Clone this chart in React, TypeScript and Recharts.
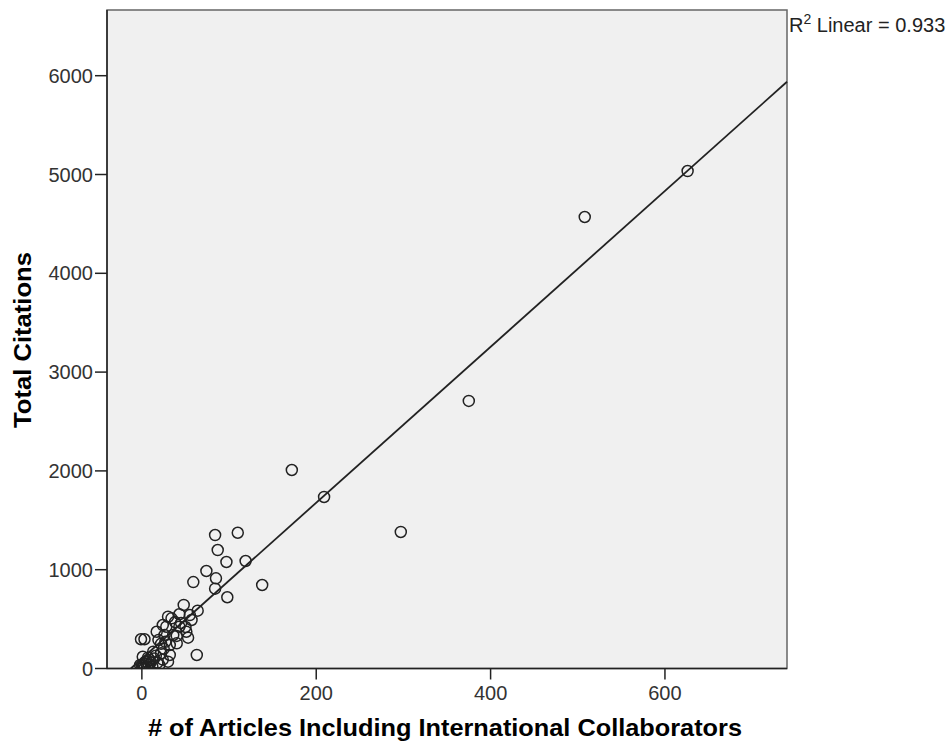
import React from 'react';
import { ScatterChart, Scatter, XAxis, YAxis, CartesianGrid, ReferenceLine, ReferenceArea } from 'recharts';

const articles = [626, 508, 375, 297, 209, 172, 138, 119, 110, 84, 87, 97, 74, 85, 59, 84, 98, 48, 64, 63,
  30, 43, 55, 57, 24, 43, 51, 53, 36, 26, 19, 32, -1, 3, 40, 13, 22, 32, 9, 1,
  -2, 20, 30, 28, 17, 34, 0, 1, 2, 3, 5, 6, 8, 10, 4, 14, 12, 25, 27, 38,
  45, 22, 7, 16, 50, 18, 24, 0, 2, 40];
const citations = [5035, 4570, 2708, 1382, 1736, 2009, 845, 1088, 1374, 1351, 1199, 1078, 987, 913, 875, 808, 721, 643, 585, 137,
  524, 549, 541, 491, 440, 423, 372, 312, 339, 339, 288, 238, 296, 296, 255, 170, 154, 137, 86, 119,
  35, 35, 69, 423, 372, 508, 0, 10, 25, 5, 50, 15, 40, 60, 70, 100, 20, 200, 270, 470,
  460, 250, 110, 130, 420, 60, 90, 30, 50, 330];

const xTicks = [0, 200, 400, 600];
const yTicks = [0, 1000, 2000, 3000, 4000, 5000, 6000];
const xDomain = [-40, 740];
const yDomain = [0, 6665];
const fitIntercept = 100;
const fitSlope = 7.89;
const rSquared = '0.933';

const data = articles.map((x, i) => ({ x, y: citations[i] }));

const FONT = '"Liberation Sans", Arial, sans-serif';

const Ring = (props: any) => {
  const { cx, cy } = props;
  if (cx == null || cy == null) return null;
  return <circle cx={cx} cy={cy} r={5.5} fill="none" stroke="#222" strokeWidth={1.5} />;
};

export default function App() {
  const fitStart = -fitIntercept / fitSlope;
  const fitEnd = xDomain[1];
  return (
    <div style={{ position: 'absolute', left: 0, top: 0, width: 948, height: 751, background: '#fff' }}>
      <ScatterChart width={948} height={751} margin={{ top: 10, right: 161, left: 0, bottom: 0 }}>
        <CartesianGrid horizontal={false} vertical={false} fill="#F0F0F0" />
        <XAxis
          type="number"
          dataKey="x"
          domain={xDomain}
          ticks={xTicks}
          allowDataOverflow
          height={82.5}
          tickSize={11}
          tickMargin={6}
          axisLine={{ stroke: '#222', strokeWidth: 1.5 }}
          tickLine={{ stroke: '#222', strokeWidth: 1.5 }}
          tick={{ fill: '#333', fontSize: 20, fontFamily: FONT }}
        />
        <YAxis
          type="number"
          dataKey="y"
          domain={yDomain}
          ticks={yTicks}
          allowDataOverflow
          width={107}
          tickSize={12}
          tickMargin={2}
          axisLine={{ stroke: '#222', strokeWidth: 1.5 }}
          tickLine={{ stroke: '#222', strokeWidth: 1.5 }}
          tick={{ fill: '#333', fontSize: 20, fontFamily: FONT }}
        />
        <ReferenceArea x1={xDomain[0]} x2={xDomain[1]} y1={yDomain[0]} y2={yDomain[1]} fill="none" stroke="#666" strokeWidth={1.5} />
        <ReferenceLine
          segment={[{ x: fitStart, y: 0 }, { x: fitEnd, y: fitIntercept + fitSlope * fitEnd }]}
          stroke="#222"
          strokeWidth={1.8}
        />
        <Scatter data={data} isAnimationActive={false} shape={Ring} />
      </ScatterChart>
      <svg width={948} height={751} style={{ position: 'absolute', left: 0, top: 0, pointerEvents: 'none' }}>
        <text x={445} y={736} textAnchor="middle" fontFamily={FONT} fontWeight="bold" fontSize={24} fill="#000" textLength={594} lengthAdjust="spacingAndGlyphs">
          # of Articles Including International Collaborators
        </text>
        <text x={31} y={340} textAnchor="middle" fontFamily={FONT} fontWeight="bold" fontSize={24} fill="#000" transform="rotate(-90 31 340)" textLength={176} lengthAdjust="spacingAndGlyphs">
          Total Citations
        </text>
        <text x={789} y={32} fontFamily={FONT} fontSize={20} fill="#222">
          R<tspan dy={-8} fontSize={14}>2</tspan><tspan dy={8}> Linear = {rSquared}</tspan>
        </text>
      </svg>
    </div>
  );
}
